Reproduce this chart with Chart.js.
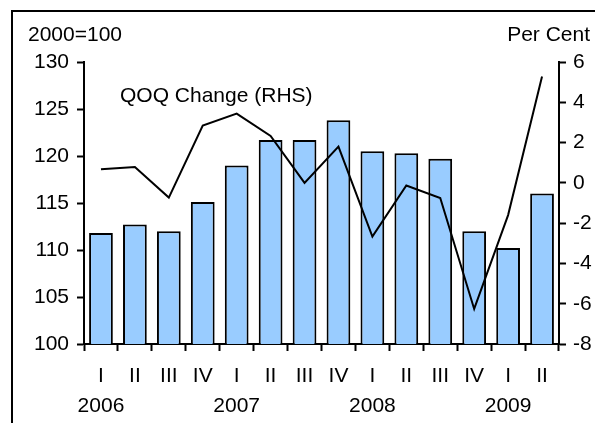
<!DOCTYPE html>
<html>
<head>
<meta charset="utf-8">
<script src="https://cdn.jsdelivr.net/npm/chart.js@4/dist/chart.umd.min.js"></script>
<style>
    html, body { margin: 0; padding: 0; background: #fff; }
    #wrap { position: relative; width: 595px; height: 423px; overflow: hidden; }
    #frame { position: absolute; left: 11px; top: 10px; width: 620px; height: 450px; border: 2px solid #000; }
    canvas { position: absolute; left: 0; top: 0; }
</style>
</head>
<body>
<div id="wrap">
    <div id="frame"></div>
    <canvas id="chart" width="595" height="423"></canvas>
</div>
<script>
// Quarterly index (2000=100) and QOQ change, 2006 Q1 - 2009 Q2
const quarters = ['I', 'II', 'III', 'IV', 'I', 'II', 'III', 'IV', 'I', 'II', 'III', 'IV', 'I', 'II'];
const years = ['2006', '', '', '', '2007', '', '', '', '2008', '', '', '', '2009', ''];
const indexValues = [111.8, 112.7, 112.0, 115.1, 119.0, 121.7, 121.7, 123.8, 120.5, 120.3, 119.7, 112.0, 110.2, 116.0];
const qoqChange = [0.68, 0.79, -0.73, 2.85, 3.44, 2.33, 0.0, 1.8, -2.67, -0.13, -0.75, -6.26, -1.6, 5.28];
const leftTicks = [100, 105, 110, 115, 120, 125, 130];
const rightTicks = [-8, -6, -4, -2, 0, 2, 4, 6];

const FONT = 'Liberation Sans, Arial, sans-serif';
const FSIZE = 21;

// annotation texts drawn on the canvas
const notesPlugin = {
    id: 'notes',
    afterDraw(chart) {
        const ctx = chart.ctx;
        ctx.save();
        ctx.fillStyle = '#000';
        ctx.font = FSIZE + 'px ' + FONT;
        ctx.textBaseline = 'middle';
        ctx.textAlign = 'left';
        ctx.fillText('2000=100', 28, 35);
        ctx.fillText('QOQ Change (RHS)', 120, 96);
        ctx.textAlign = 'right';
        ctx.fillText('Per Cent', 590, 35);
        ctx.restore();
    }
};

new Chart(document.getElementById('chart'), {
    data: {
        labels: quarters.map((q, i) => [q, years[i]]),
        datasets: [{
            type: 'line',
            data: qoqChange,
            yAxisID: 'y2',
            borderColor: '#000',
            borderWidth: 2,
            pointRadius: 0,
            tension: 0,
            order: 0
        }, {
            type: 'bar',
            data: indexValues,
            yAxisID: 'y',
            backgroundColor: '#99CCFF',
            borderColor: '#000',
            borderWidth: 2,
            borderSkipped: false,
            categoryPercentage: 1,
            barPercentage: 0.7,
            order: 1
        }]
    },
    options: {
        responsive: false,
        animation: false,
        layout: { padding: { top: 62, left: 0, right: 0, bottom: 0 } },
        plugins: {
            legend: { display: false },
            tooltip: { enabled: false }
        },
        scales: {
            x: {
                offset: true,
                afterFit: function(scale) { scale.height = 79; },
                grid: {
                    offset: true,
                    drawOnChartArea: false,
                    drawTicks: true,
                    tickLength: 7,
                    tickWidth: 2,
                    tickColor: '#000'
                },
                border: { color: '#000', width: 2 },
                ticks: {
                    color: '#000',
                    maxRotation: 0,
                    autoSkip: false,
                    padding: 10,
                    font: { family: FONT, size: FSIZE, lineHeight: 1.43 }
                }
            },
            y: {
                position: 'left',
                min: 100,
                max: 130,
                afterFit: function(scale) { scale.width = 84; },
                afterBuildTicks: function(scale) { scale.ticks = leftTicks.map(v => ({ value: v })); },
                grid: {
                    drawOnChartArea: false,
                    tickLength: 7,
                    tickWidth: 2,
                    tickColor: '#000'
                },
                border: { color: '#000', width: 2 },
                ticks: {
                    color: '#000',
                    padding: 8,
                    font: { family: FONT, size: FSIZE }
                }
            },
            y2: {
                position: 'right',
                min: -8,
                max: 6,
                afterFit: function(scale) { scale.width = 36; },
                afterBuildTicks: function(scale) { scale.ticks = rightTicks.map(v => ({ value: v })); },
                grid: {
                    drawOnChartArea: false,
                    tickLength: 7,
                    tickWidth: 2,
                    tickColor: '#000'
                },
                border: { color: '#000', width: 2 },
                ticks: {
                    color: '#000',
                    padding: 7,
                    font: { family: FONT, size: FSIZE }
                }
            }
        }
    },
    plugins: [notesPlugin]
});
</script>
</body>
</html>
